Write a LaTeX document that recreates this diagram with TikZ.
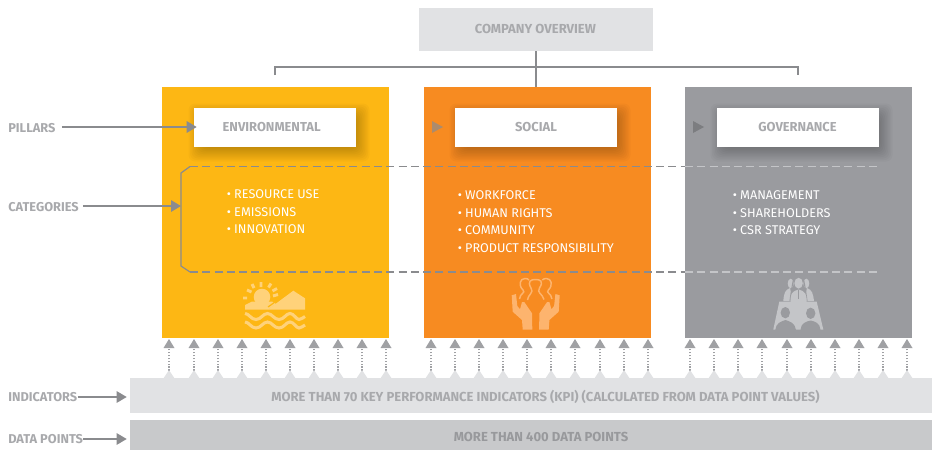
\documentclass[tikz,border=0pt]{standalone}
\usepackage{fontspec}
\setmainfont{Fira Sans}
\usetikzlibrary{arrows.meta,calc}
\definecolor{cenv}{HTML}{FDB714}
\definecolor{csoc}{HTML}{F78B21}
\definecolor{cgov}{HTML}{9A9B9F}
\definecolor{ilenv}{HTML}{FFD27A}
\definecolor{ilsoc}{HTML}{FDB46E}
\definecolor{ilgov}{HTML}{C4C5C8}
\definecolor{lbar}{HTML}{E1E2E4}
\definecolor{dbar}{HTML}{C8C9CB}
\definecolor{lbl}{HTML}{A8A9AC}
\definecolor{datlbl}{HTML}{98999C}
\definecolor{linec}{HTML}{8A8B8E}
\definecolor{dotc}{HTML}{A0A1A4}
\tikzset{
  pillarbox/.style={inner sep=0pt,minimum width=170.25pt,minimum height=188.25pt},
  whitebox/.style={fill=white,inner sep=0pt,minimum width=121.5pt,minimum height=29.25pt,text=lbl,font=\bfseries\fontsize{9.7}{11}\selectfont},
  sidelabel/.style={anchor=west,inner sep=0pt,text=lbl,font=\bfseries\fontsize{9.6}{11}\selectfont},
  barlabel/.style={text=lbl,font=\bfseries\fontsize{9.8}{11}\selectfont},
  bullets/.style={anchor=north west,inner sep=0pt,align=left,text=white,font=\fontsize{9.5}{13.2}\selectfont},
  guide/.style={draw=linec,line width=1.5pt,-{Triangle[length=7.5pt,width=8.5pt]}},
  orgline/.style={draw=linec,line width=1.1pt},
  dashline/.style={draw=linec,line width=0.8pt,dash pattern=on 6pt off 3.2pt},
  dashlight/.style={draw=ilgov,line width=0.8pt,dash pattern=on 6pt off 3.2pt},
  dotline/.style={draw=dotc,line width=1.3pt,dash pattern=on 1.2pt off 1pt},
}
\newcommand{\softshadow}[4]{% x1 y1 x2 y2
  \foreach \e in {-4,-2.5,...,10}{
    \fill[black,opacity=0.023,rounded corners=5pt]
      ({#1+4-\e},{#2+6-\e}) rectangle ({#3+4+\e},{#4+6+\e});
  }
}
\newcommand{\uparrows}[2]{% list, tag
  \foreach \x in {#1}{
    \coordinate (b#2\x) at (\x,371);
    \coordinate (t#2\x) at (\x,348);
    \coordinate (p#2\x) at (\x,339);
    \draw[dotline] (b#2\x) -- (t#2\x);
    \fill[dotc] (p#2\x) -- ($(t#2\x)+(5.5,0)$) -- ($(t#2\x)+(-5.5,0)$) -- cycle;
    \fill[lbar] ($(b#2\x)+(0,-1)$) -- ($(b#2\x)+(6,8)$) -- ($(b#2\x)+(-6,8)$) -- cycle;
  }
}
\begin{document}
\begin{tikzpicture}[x=0.75pt,y=-0.75pt]
\useasboundingbox (0,0) rectangle (932,450);
% overview
\node[fill=lbar,inner sep=0pt,minimum width=175.5pt,minimum height=32.25pt,text=lbl,font=\bfseries\fontsize{9.8}{11}\selectfont] (top) at (536,29.5) {\raisebox{1pt}{\hspace*{-1pt}COMPANY OVERVIEW}};
% pillars
\node[pillarbox,fill=cenv] (env) at (275.5,212.5) {};
\node[pillarbox,fill=csoc] (soc) at (537.5,212.5) {};
\node[pillarbox,fill=cgov] (gov) at (798.5,212.5) {};
% org connector
\coordinate (jl) at (275,67);
\coordinate (jr) at (798,67);
\draw[orgline] (top.south) -- (soc.north -| top.south);
\draw[orgline] (275,75) -- (jl) -- (jr) -- (798,75);
% shadows
\softshadow{194}{107}{356}{146}
\softshadow{455}{107}{617}{146}
\softshadow{716}{107}{879}{146}
\node[whitebox] (wenv) at (275,127) {\hspace*{-5pt}ENVIRONMENTAL};
\node[whitebox] (wsoc) at (536,127) {SOCIAL};
\node[whitebox] (wgov) at (797.5,127) {GOVERNANCE};
% small triangles
\fill[linec!70!csoc] (432,121) -- (443,127) -- (432,133) -- cycle;
\fill[linec!90!black] (693,121) -- (704,127) -- (693,133) -- cycle;
% dashes and bracket
\coordinate (brk) at (181,206);
\draw[dashline] (190,166.5) -- (685,166.5);
\draw[dashlight] (685,166.5) -- (880,166.5);
\draw[dashline] (190,272) -- (685,272);
\draw[dashlight] (685,272) -- (880,272);
\draw[draw=linec,line width=0.9pt] (190,166.5) -- (181,173) -- (181,266) -- (190,272);
% bullets
\node[bullets] (lenv) at (226.5,189.5) {• RESOURCE USE\\• EMISSIONS\\• INNOVATION};
\node[bullets] (lsoc) at (457.5,190.5) {• WORKFORCE\\• HUMAN RIGHTS\\• COMMUNITY\\• PRODUCT RESPONSIBILITY};
\node[bullets] (lgov) at (732.5,190.5) {• MANAGEMENT\\• SHAREHOLDERS\\• CSR STRATEGY};
% environmental icon
\fill[ilenv] (262,297) circle (8.3);
\fill[ilenv] (245,309.5) -- (245,305) -- (252,301.5) -- (272,301.5) -- (276,304) -- (268,309.5) -- cycle;
\fill[ilenv] (268,309.5) -- (293.3,290.7) -- (305,298.3) -- (305,309.5) -- cycle;
\draw[cenv,line width=0.9pt] (268,307) -- (292,290);
\draw[ilenv,line width=2.2pt] (261,282) -- (261,287) (252,284) -- (254,288) (271,283.5) -- (268.5,287.5) (247,290) -- (251.5,292) (277,288.5) -- (272.5,291) (247,298) -- (243,298) (278,294.5) -- (273,296);
\foreach \y in {316.5,325}{
  \draw[ilenv,line width=2.3pt] (245,\y-3) .. controls (249,\y-3) and (251,\y+3) .. (256,\y+3)
    .. controls (261,\y+3) and (263,\y-3) .. (267.5,\y-3)
    .. controls (272,\y-3) and (274,\y+3) .. (279,\y+3)
    .. controls (284,\y+3) and (286,\y-3) .. (290,\y-3)
    .. controls (294,\y-3) and (296,\y+3) .. (299,\y+3)
    .. controls (301,\y+3) and (303,\y+1) .. (305,\y);
}
% social icon
\foreach \m/\s in {0/1,1071.4/-1}{
  \fill[ilsoc] ({\m+\s*511.7},295.3) -- ({\m+\s*516},294) -- ({\m+\s*517.3},306) -- ({\m+\s*520},309.3) -- ({\m+\s*522},302) -- ({\m+\s*524.3},302) -- ({\m+\s*532},313.3) -- ({\m+\s*532.3},329.5) -- ({\m+\s*522.7},329.5) -- ({\m+\s*522},320) -- ({\m+\s*512.7},311.7) -- cycle;
  \draw[ilsoc,line width=1.1pt] ({\m+\s*519.5},299) .. controls ({\m+\s*520},293) and ({\m+\s*526},293) .. ({\m+\s*523},290) .. controls ({\m+\s*518},285) and ({\m+\s*520},278.5) .. ({\m+\s*525},278.5) .. controls ({\m+\s*527},278.5) and ({\m+\s*528},279) .. ({\m+\s*529},280);
}
\draw[ilsoc,line width=1.1pt] (527.5,300) .. controls (529,293) and (534,293) .. (531,288) .. controls (527,281) and (531,279.5) .. (535.5,279.5) .. controls (540,279.5) and (544,281) .. (539.5,288) .. controls (536.5,293) and (542,293) .. (544,299.5);
% governance icon
\fill[ilgov] (779.3,301.7) -- (816.7,301.7) -- (823.3,329.5) -- (773.3,329.5) -- cycle;
\fill[cgov] (775.3,329.8) .. controls (776,323) and (781,321.5) .. (785.5,320) .. controls (790,321.5) and (795,323) .. (796,329.8) -- cycle;
\fill[cgov] (800.5,329.8) .. controls (801,323) and (806,321.5) .. (810.7,320.5) .. controls (815,321.5) and (820,323) .. (820.5,329.8) -- cycle;
\fill[cgov] (785.3,312.7) ellipse (4.7 and 5.7);
\fill[cgov] (810.7,313.3) ellipse (4.7 and 5.7);
\fill[ilgov] (790.7,283.5) ellipse (3 and 4.8);
\fill[ilgov] (806.3,283.5) ellipse (3 and 4.8);
\fill[ilgov] (783.3,301) .. controls (784,293) and (785,290) .. (790,288) -- (793,301) -- cycle;
\fill[ilgov] (814,301) .. controls (813,293) and (812,290) .. (807,288) -- (804,301) -- cycle;
\draw[cgov,line width=0.8pt] (793.5,279) -- (791.5,290) -- (790,301);
\draw[cgov,line width=0.8pt] (803.5,279) -- (805.5,290) -- (807,301);
\fill[ilgov] (798.6,283.2) ellipse (4.2 and 5.4);
\fill[ilgov] (790.5,301.8) .. controls (790.5,294) and (792,291) .. (798.6,289.5) .. controls (805,291) and (806.7,294) .. (806.7,301.8) -- cycle;
\draw[cgov,line width=0.8pt] (798.6,290) -- (798.6,299);
% bars
\node[fill=lbar,inner sep=0pt,minimum width=601.5pt,minimum height=26.25pt] (ind) at (531,395.5) {};
\node[fill=dbar,inner sep=0pt,minimum width=601.5pt,minimum height=22.5pt] (dat) at (531,435) {};
\node[barlabel] (indt) at (545.5,396.5) {MORE THAN 70 KEY PERFORMANCE INDICATORS (KPI) (CALCULATED FROM DATA POINT VALUES)};
\node[barlabel,text=datlbl] (datt) at (541,437) {MORE THAN 400 DATA POINTS};
% up arrows
\uparrows{169,194,218,242,266,290,314,338,362,386}{e}
\uparrows{431,455,479,503,527,551,575,600,624,648}{s}
\uparrows{690,714,738,762,787,811,835,859,883,907}{g}
% side labels
\node[sidelabel] (pil) at (8,128) {PILLARS};
\node[sidelabel] (cat) at (8,207) {CATEGORIES};
\node[sidelabel] (ilab) at (8,397) {INDICATORS};
\node[sidelabel] (dlab) at (8,439) {DATA POINTS};
\draw[guide] ($(pil.east)+(6,-1)$) -- ($(wenv.west |- pil.east)+(3,-1)$);
\draw[guide] ($(cat.east)+(4,-1)$) -- (brk);
\draw[guide,line width=1.2pt] (ilab.east) -- ($(ind.west |- ilab.east)+(-3,0)$);
\draw[guide,line width=1.2pt] (dlab.east) -- ($(dat.west |- dlab.east)+(-3,0)$);
\end{tikzpicture}
\end{document}
